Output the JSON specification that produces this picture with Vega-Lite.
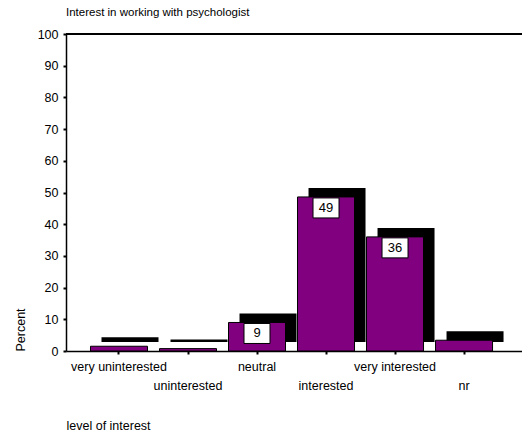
{
  "$schema": "https://vega.github.io/schema/vega-lite/v6.json",
  "width": 456,
  "height": 317,
  "autosize": "none",
  "padding": {"left": 66, "top": 34, "right": 0, "bottom": 83},
  "background": "white",
  "config": {
    "view": {"stroke": null},
    "font": "Liberation Sans",
    "axisX": {
      "title": "level of interest",
      "titleFont": "Liberation Sans",
      "titleFontSize": 12.5,
      "titleFontWeight": "normal",
      "titleColor": "black",
      "titleAnchor": "start",
      "titleAlign": "left",
      "titleBaseline": "middle",
      "titleX": 0,
      "titleY": 74,
      "labelAngle": 0,
      "labelFont": "Liberation Sans",
      "labelFontSize": 12.5,
      "labelColor": "black",
      "labelBaseline": "top",
      "labelPadding": 6,
      "labelLineHeight": 19,
      "labelOverlap": false,
      "labelBound": false,
      "labelFlush": false,
      "labelLimit": 0,
      "labelExpr": "indexof(['uninterested','interested','nr'], datum.value) >= 0 ? ['', datum.value] : datum.value",
      "domainColor": "black",
      "domainWidth": 1.5,
      "tickColor": "black",
      "tickSize": 3,
      "tickWidth": 2
    }
  },
  "title": {
    "text": "Interest in working with psychologist",
    "anchor": "start",
    "frame": "group",
    "fontSize": 11.5,
    "fontWeight": "normal",
    "font": "Liberation Sans",
    "color": "black",
    "offset": 10
  },
  "data": {
    "values": [
      {"level": "very uninterested", "pct": 1.5, "label": ""},
      {"level": "uninterested", "pct": 0.75, "label": ""},
      {"level": "neutral", "pct": 9, "label": "9"},
      {"level": "interested", "pct": 48.6, "label": "49"},
      {"level": "very interested", "pct": 36, "label": "36"},
      {"level": "nr", "pct": 3.4, "label": ""}
    ]
  },
  "encoding": {
    "y": {
      "field": "pct",
      "type": "quantitative",
      "scale": {"domain": [0, 100], "nice": false},
      "axis": {
        "title": "Percent",
        "titleFont": "Liberation Sans",
        "titleFontSize": 12.5,
        "titleFontWeight": "normal",
        "titleColor": "black",
        "titleAngle": -90,
        "titleAlign": "left",
        "titleBaseline": "middle",
        "titleX": -46,
        "titleY": 317,
        "values": [0, 10, 20, 30, 40, 50, 60, 70, 80, 90, 100],
        "grid": false,
        "labelFont": "Liberation Sans",
        "labelFontSize": 12.5,
        "labelColor": "black",
        "labelPadding": 5,
        "domainColor": "black",
        "domainWidth": 1.5,
        "tickColor": "black",
        "tickSize": 3,
        "tickWidth": 2
      }
    }
  },
  "layer": [
    {
      "mark": {"type": "bar", "color": "black", "xOffset": 11, "yOffset": -9, "y2Offset": -9},
      "encoding": {
        "x": {
          "field": "level",
          "type": "nominal",
          "title": "level of interest",
          "sort": ["very uninterested", "uninterested", "neutral", "interested", "very interested", "nr"],
          "scale": {"paddingInner": 0.174, "paddingOuter": 0.391, "align": 0.454}
        }
      }
    },
    {
      "mark": {"type": "bar", "color": "#800080", "stroke": "black", "strokeWidth": 1},
      "encoding": {
        "x": {
          "field": "level",
          "type": "nominal",
          "title": "level of interest",
          "sort": ["very uninterested", "uninterested", "neutral", "interested", "very interested", "nr"],
          "scale": {"paddingInner": 0.174, "paddingOuter": 0.391, "align": 0.454}
        }
      }
    },
    {
      "transform": [{"filter": "datum.label != ''"}],
      "mark": {
        "type": "point",
        "shape": "M-1.3,-1H1.3V1H-1.3Z",
        "size": 400,
        "filled": true,
        "fill": "white",
        "stroke": "black",
        "strokeWidth": 1,
        "opacity": 1,
        "yOffset": 11
      },
      "encoding": {
        "x": {
          "field": "level",
          "type": "nominal",
          "title": "level of interest",
          "sort": ["very uninterested", "uninterested", "neutral", "interested", "very interested", "nr"],
          "scale": {"paddingInner": 0.174, "paddingOuter": 0.391, "align": 0.454}
        }
      }
    },
    {
      "transform": [{"filter": "datum.label != ''"}],
      "mark": {
        "type": "text",
        "font": "Liberation Sans",
        "fontSize": 13,
        "color": "black",
        "baseline": "middle",
        "align": "center",
        "yOffset": 11
      },
      "encoding": {
        "x": {
          "field": "level",
          "type": "nominal",
          "title": "level of interest",
          "sort": ["very uninterested", "uninterested", "neutral", "interested", "very interested", "nr"],
          "scale": {"paddingInner": 0.174, "paddingOuter": 0.391, "align": 0.454}
        },
        "text": {"field": "label"}
      }
    },
    {
      "mark": {"type": "rule", "color": "black", "strokeWidth": 1.5},
      "encoding": {
        "y": {"datum": 100}
      }
    }
  ]
}
